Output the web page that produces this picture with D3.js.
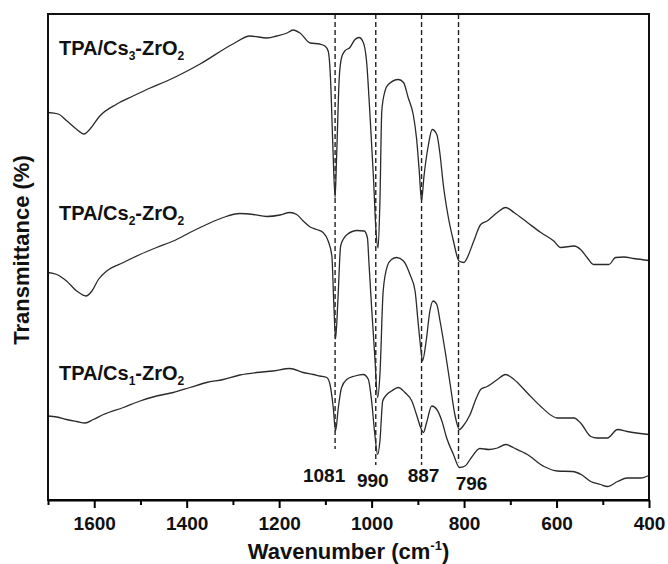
<!DOCTYPE html>
<html>
<head>
<meta charset="utf-8">
<script src="https://cdn.jsdelivr.net/npm/d3@7"></script>
<style>
  body { margin: 0; background: #fff; }
  text { font-family: "Liberation Sans", Arial, sans-serif; font-weight: bold; fill: #111; }
</style>
</head>
<body>
<div id="chart"></div>
<script>
// FT-IR spectra, values (arbitrary offset transmittance)
var xTicks = [1600, 1400, 1200, 1000, 800, 600, 400];
var xMinorTicks = [1700, 1500, 1300, 1100, 900, 700, 500];

var seriesNames = ["TPA/Cs3-ZrO2", "TPA/Cs2-ZrO2", "TPA/Cs1-ZrO2"];
var seriesSubs = ["3", "2", "1"];

// [wavenumber, transmittance]
var cs3 = [[1700,77.5],[1678,77.2],[1659,75.8],[1639,74.2],[1622,73.2],[1609,74.2],[1588,76.8],
  [1551,79.2],[1516,80.8],[1479,82.4],[1443,83.8],[1371,87.2],[1300,91.2],[1263,92.8],[1226,92.4],
  [1205,92.8],[1183,93.4],[1170,94.0],[1155,93.4],[1133,91.4],[1112,91.2],[1101,90.8],[1094,89.8],
  [1089,84.5],[1084,71.2],[1079,60.5],[1076,67.8],[1070,84.5],[1065,88.5],[1058,89.8],[1047,90.5],
  [1036,92.1],[1027,92.5],[1018,91.5],[1011,87.8],[1004,77.8],[996,64.5],[991,54.5],[986,50.4],
  [982,59.8],[978,77.8],[971,81.8],[964,83.1],[942,84.1],[931,83.5],[921,80.5],[910,77.1],[903,72.5],
  [897,65.8],[892,59.8],[887,64.5],[877,71.1],[869,74.1],[859,73.1],[852,69.1],[845,63.1],[834,56.5],
  [823,51.8],[811,47.8],[800,47.5],[793,48.5],[779,51.8],[764,55.1],[750,55.8],[728,57.5],[710,58.5],
  [692,57.5],[663,55.5],[634,53.5],[606,51.8],[591,50.5],[562,50.8],[548,50.1],[534,48.5],[520,47.1],
  [502,47.1],[487,47.1],[472,48.5],[454,48.6],[433,48.3],[400,47.9]];

var cs2 = [[1700,45.5],[1681,45.1],[1660,43.8],[1638,41.8],[1618,40.8],[1605,41.8],[1591,44.1],
  [1573,45.8],[1537,47.5],[1501,49.1],[1465,50.5],[1429,51.8],[1393,53.5],[1357,55.1],[1321,56.5],
  [1285,57.3],[1256,57.1],[1227,56.7],[1198,57.0],[1177,57.5],[1162,57.1],[1148,55.8],[1133,54.6],
  [1119,54.1],[1105,53.5],[1094,51.8],[1086,48.8],[1082,39.8],[1078,32.2],[1073,39.8],[1067,50.8],
  [1061,52.2],[1053,53.1],[1031,53.9],[1016,53.8],[1009,52.4],[1006,47.8],[1000,38.5],[993,28.5],
  [987,20.5],[982,25.1],[975,41.8],[966,46.8],[957,48.1],[946,48.5],[931,47.8],[917,45.1],[906,41.8],
  [899,35.1],[893,29.8],[890,27.8],[882,31.8],[874,37.8],[867,39.8],[859,39.1],[852,35.8],[841,29.8],
  [830,23.1],[820,17.1],[810,14.1],[802,14.8],[787,17.1],[773,20.5],[763,22.2],[750,22.7],[728,24.1],
  [710,25.1],[692,24.1],[663,21.4],[634,18.7],[598,16.4],[562,16.4],[548,15.4],[526,12.7],[512,12.4],
  [490,12.4],[468,14.1],[447,13.7],[400,13.1]];

var cs1 = [[1700,16.8],[1681,16.6],[1660,16.1],[1638,15.7],[1620,15.4],[1602,16.1],[1580,17.1],
  [1537,18.5],[1501,19.8],[1465,20.8],[1429,21.5],[1393,22.5],[1357,23.5],[1321,24.1],[1285,25.0],
  [1249,25.5],[1213,25.8],[1177,26.3],[1148,25.5],[1126,25.1],[1112,24.8],[1097,24.5],[1090,23.1],
  [1083,18.5],[1078,13.8],[1072,18.5],[1065,22.5],[1054,24.1],[1036,24.8],[1018,25.1],[1007,24.1],
  [1000,19.8],[993,13.1],[987,9.1],[982,11.8],[976,19.8],[967,21.1],[957,21.8],[942,22.5],[928,21.5],
  [913,19.8],[903,17.1],[894,14.5],[888,13.5],[881,15.5],[870,18.8],[859,18.1],[848,15.8],[838,12.5],
  [823,9.1],[810,6.5],[798,6.8],[784,8.5],[766,10.3],[746,10.1],[728,10.4],[710,11.1],[692,10.4],
  [663,9.1],[627,6.7],[598,5.8],[566,5.7],[545,5.0],[526,3.7],[505,3.1],[490,2.7],[468,3.7],[447,4.4],
  [418,4.4],[400,4.9]];

// band positions (where the dashed lines sit) and their labels
var bandWn = [1079, 991, 892, 812];
var bandLabels = ["1081", "990", "887", "796"];
var bandBottom = [10.2, 7.0, 7.0, 7.5];    // lower end of each dashed line
var bandLabelY = [3.6, 2.6, 3.6, 2.0];     // label baseline

var labelT = [89, 56, 24];  // baseline of series labels

var svgWidth = 668;
var svgHeight = 564;
var margin = {top: 14, right: 19, bottom: 64, left: 48};
var width = svgWidth - margin.left - margin.right;
var height = svgHeight - margin.top - margin.bottom;

var svg = d3.select("#chart").append("svg")
  .attr("width", svgWidth)
  .attr("height", svgHeight);

var g = svg.append("g")
  .attr("transform", `translate(${margin.left}, ${margin.top})`);

var x = d3.scaleLinear().domain([1700, 400]).range([0, width]);
var y = d3.scaleLinear().domain([0, 97.2]).range([height, 0]);

// dashed band markers
g.selectAll(".band")
  .data(bandWn)
  .enter()
  .append("line")
  .attr("x1", d => x(d))
  .attr("x2", d => x(d))
  .attr("y1", 0)
  .attr("y2", (d, i) => y(bandBottom[i]))
  .attr("stroke", "#222")
  .attr("stroke-width", 1.4)
  .attr("stroke-dasharray", "5,3");

// spectra
var line = d3.line()
  .x(d => x(d[0]))
  .y(d => y(d[1]))
  .curve(d3.curveMonotoneX);

[cs3, cs2, cs1].forEach(function(s) {
  g.append("path")
    .datum(s)
    .attr("fill", "none")
    .attr("stroke", "#2a2a2a")
    .attr("stroke-width", 1.3)
    .attr("d", line);
});

// frame
g.append("rect")
  .attr("width", width)
  .attr("height", height)
  .attr("fill", "none")
  .attr("stroke", "#111")
  .attr("stroke-width", 2);

// x axis: labelled major ticks + minor ticks
var xAxis = g.append("g")
  .attr("transform", `translate(0, ${height})`)
  .call(d3.axisBottom(x).tickValues(xTicks).tickSize(8).tickSizeOuter(0).tickPadding(9).tickFormat(d3.format("d")));
xAxis.select(".domain").attr("stroke-width", 2);
xAxis.selectAll(".tick line").attr("stroke-width", 2);
xAxis.selectAll("text").style("font-size", "19px").attr("fill", "#111");

g.append("g")
  .attr("transform", `translate(0, ${height})`)
  .call(d3.axisBottom(x).tickValues(xMinorTicks).tickSize(5).tickFormat(""))
  .call(a => a.select(".domain").remove())
  .selectAll("line").attr("stroke-width", 2);

// axis titles
var xt = svg.append("text")
  .attr("x", margin.left + width / 2)
  .attr("y", 559)
  .attr("text-anchor", "middle")
  .style("font-size", "22px");
xt.append("tspan").text("Wavenumber (cm");
xt.append("tspan").attr("dy", -9).style("font-size", "13px").text("-1");
xt.append("tspan").attr("dy", 9).text(")");

svg.append("text")
  .attr("transform", "translate(29, 250) rotate(-90)")
  .attr("text-anchor", "middle")
  .style("font-size", "22px")
  .text("Transmittance (%)");

// series labels
seriesNames.forEach(function(name, i) {
  var t = g.append("text")
    .attr("x", 11)
    .attr("y", y(labelT[i]))
    .style("font-size", "20px");
  t.append("tspan").text("TPA/Cs");
  t.append("tspan").attr("dy", 5).style("font-size", "12px").text(seriesSubs[i]);
  t.append("tspan").attr("dy", -5).text("-ZrO");
  t.append("tspan").attr("dy", 5).style("font-size", "12px").text("2");
});

// band labels
g.selectAll(".bandLabel")
  .data(bandLabels)
  .enter()
  .append("text")
  .attr("x", (d, i) => x(bandWn[i]) + [-11, -3, 2, 13][i])
  .attr("y", (d, i) => y(bandLabelY[i]))
  .attr("text-anchor", "middle")
  .style("font-size", "19px")
  .text(d => d);
</script>
</body>
</html>
